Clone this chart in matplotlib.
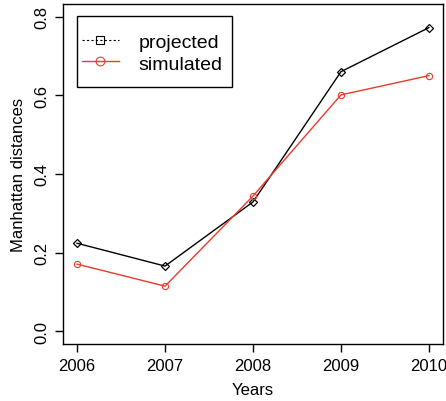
import matplotlib.pyplot as plt
from matplotlib.lines import Line2D
from matplotlib.patches import Rectangle

plt.rcParams['font.family'] = ['Liberation Sans', 'DejaVu Sans']

years = [2006, 2007, 2008, 2009, 2010]
projected = [0.224, 0.166, 0.329, 0.660, 0.772]
simulated = [0.171, 0.115, 0.344, 0.601, 0.650]
yticks = [0.0, 0.2, 0.4, 0.6, 0.8]

red = '#ec3a2c'
W, H = 446, 402

fig = plt.figure(figsize=(W / 100, H / 100), dpi=100)
ax = fig.add_axes([63/W, 57/H, 380/W, 340/H])

ax.plot(years, projected, color='black', lw=1, marker='D', ms=4.5,
        mfc='none', mec='black', mew=0.9)
ax.plot(years, simulated, color=red, lw=1, marker='o', ms=4.5,
        mfc='none', mec=red, mew=0.8)

ax.set_xlim(2005.84, 2010.16)
ax.set_ylim(-0.032, 0.832)
ax.set_xticks(years)
ax.set_yticks(yticks)
ax.set_yticklabels(['%.1f' % v for v in yticks], rotation=90, va='center')
ax.tick_params(direction='out', length=6, width=1, labelsize=12, pad=4)
ax.set_xlabel('Years', fontsize=12, labelpad=6.5)
ax.set_ylabel('Manhattan distances', fontsize=12, labelpad=5.5)
for s in ax.spines.values():
    s.set_linewidth(1)

# legend frame drawn by hand (R style box)
fig.patches.append(Rectangle((77/W, 1 - 88/H), 155/W, 71/H,
                             transform=fig.transFigure, facecolor='white',
                             edgecolor='black', lw=1, zorder=5))

handles = [
    Line2D([], [], color='black', lw=0.8, ls=(0, (2, 2)), marker='s', ms=5.2,
           mfc='none', mec='black', mew=0.8),
    Line2D([], [], color=red, lw=1, marker='o', ms=6.3,
           mfc='none', mec=red, mew=0.8),
]
leg = fig.legend(handles, ['projected', 'simulated'], loc='upper left',
                 bbox_to_anchor=(82/W, 1 - 33/H), bbox_transform=fig.transFigure,
                 borderaxespad=0, borderpad=0, fontsize=14, frameon=False,
                 handlelength=1.9, handleheight=1.0, labelspacing=0.12,
                 handletextpad=1.0)
leg.set_zorder(6)

fig.savefig('out.png', dpi=100)
